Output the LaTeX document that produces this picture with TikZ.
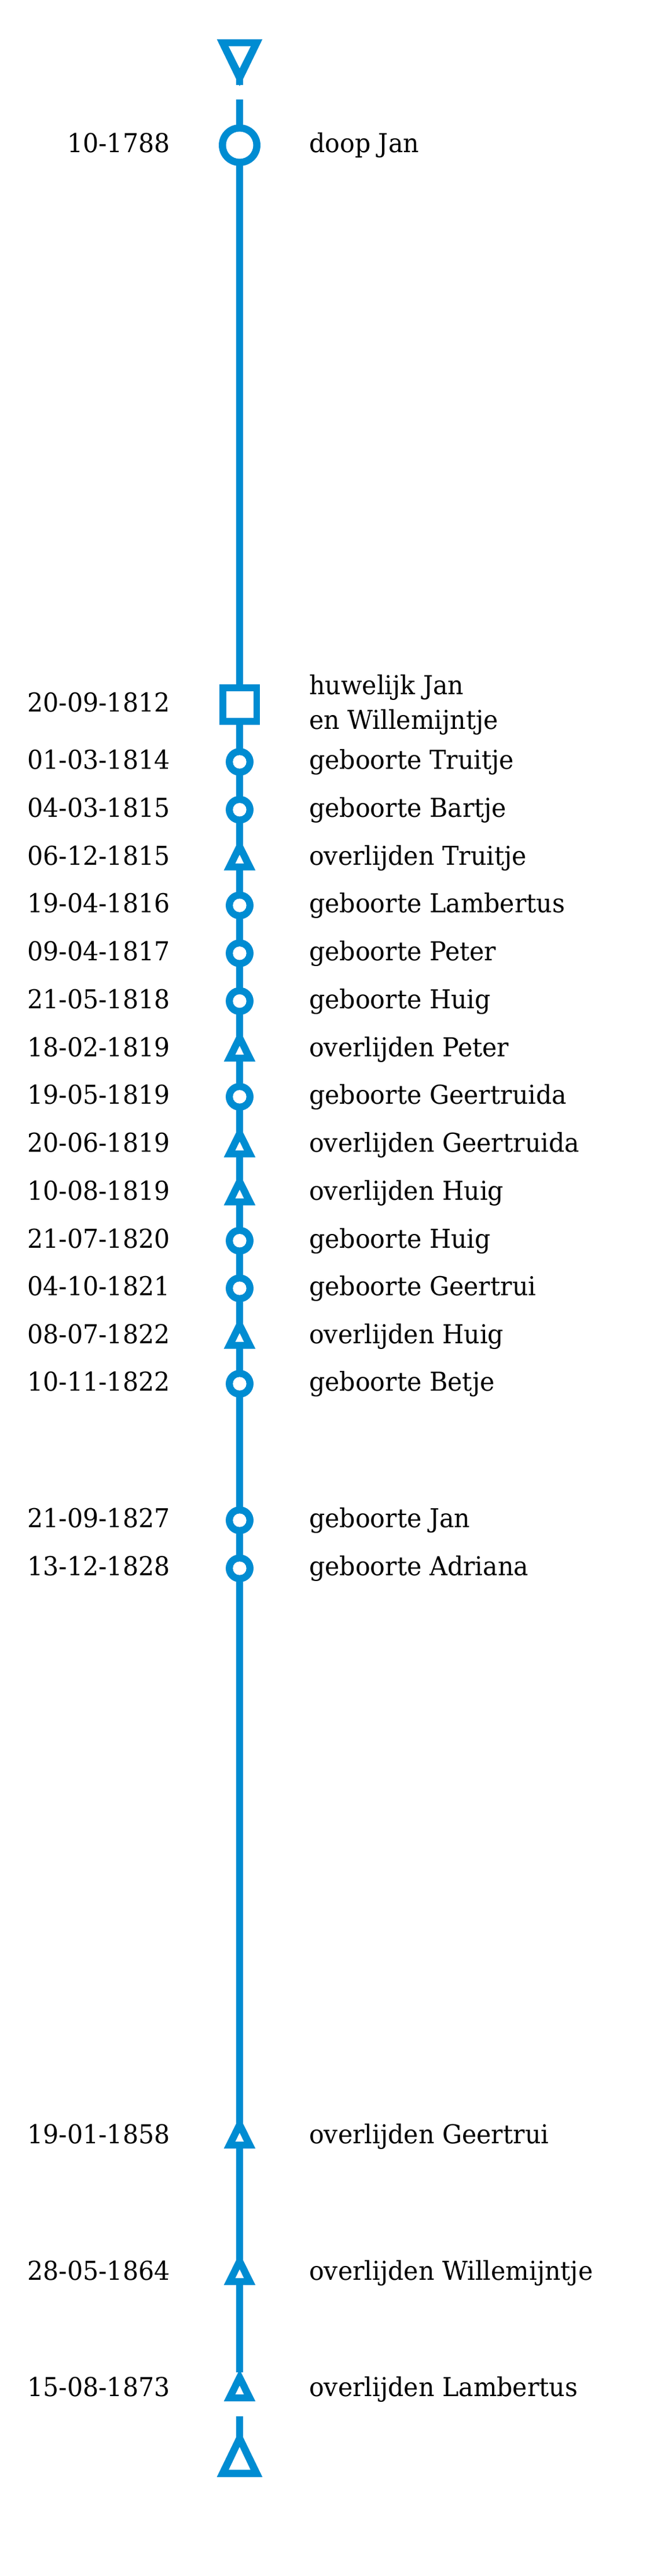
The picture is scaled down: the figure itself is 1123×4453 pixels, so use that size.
\documentclass[tikz,border=0pt]{standalone}
\usepackage{fontspec}
\setmainfont{DejaVu Serif}[FakeStretch=0.95]
\definecolor{tlblue}{RGB}{0,140,210}
\tikzset{
  tlline/.style={draw=tlblue, line width=12pt},
  datetxt/.style={anchor=base east, inner sep=0pt, font=\fontsize{45}{60}\selectfont},
  evtxt/.style={anchor=base west, inner sep=0pt, font=\fontsize{45}{60}\selectfont},
  bigcirc/.pic={\fill[tlblue] (0,0) circle[radius=36pt]; \fill[white] (0,0) circle[radius=23.5pt];},
  smallcirc/.pic={\fill[tlblue] (0,0) circle[radius=24pt]; \fill[white] (0,0) circle[radius=11.7pt];},
  squaremark/.pic={\fill[tlblue] (-35,-35) rectangle (35,35); \fill[white] (-23.5,-23) rectangle (23.5,23);},
  smalltri/.pic={\fill[tlblue] (0,-33.5) -- (27.3,21.5) -- (-27.3,21.5) -- cycle;
                 \fill[white] (0,-5.5) -- (7.3,9.5) -- (-7.3,9.5) -- cycle;},
  bigtridown/.pic={\fill[tlblue] (-39.3,0) -- (39.3,0) -- (0,81) -- cycle;
                   \fill[white] (-19,12) -- (19,12) -- (0,50) -- cycle;},
  bigtriup/.pic={\fill[tlblue] (-39.3,0) -- (39.3,0) -- (0,-81) -- cycle;
                 \fill[white] (-18.7,-12.4) -- (18.7,-12.4) -- (0,-51.7) -- cycle;},
}
\newcommand\tlevent[5]{%
  \coordinate (e#1) at (414,#2);
  \pic at (e#1) {#3};
  \node[datetxt] (d#1) at (294,{#2+12.5}) {#4};
  \node[evtxt] (l#1) at (534,{#2+12.5}) {#5};
}
\begin{document}
\begin{tikzpicture}[x=1pt,y=-1pt]
\fill[white] (0,0) rectangle (1123,4453);
\useasboundingbox (0,0) rectangle (1123,4453);
% line segments
\coordinate (t0) at (414,110);
\coordinate (t1) at (414,147);
\coordinate (m0) at (414,172);
\coordinate (m1) at (414,4101);
\coordinate (b0) at (414,4177);
\coordinate (b1) at (414,4220);
\draw[tlline] (t0) -- (t1);
\draw[tlline] (m0) -- (m1);
\draw[tlline] (b0) -- (b1);
% end triangles
\coordinate (topend) at (414,68);
\coordinate (botend) at (414,4281.7);
\pic at (topend) {bigtridown};
\pic at (botend) {bigtriup};
% events
\tlevent{a}{251}{bigcirc}{10-1788}{doop Jan}
\coordinate (ew) at (414,1217.5);
\pic at (ew) {squaremark};
\node[datetxt] (dw) at (294,1230) {20-09-1812};
\node[evtxt] (lw1) at (534,1200) {huwelijk Jan};
\node[evtxt] (lw2) at (534,1260) {en Willemijntje};
\tlevent{0}{1317}{smallcirc}{01-03-1814}{geboorte Truitje}
\tlevent{1}{1399.7}{smallcirc}{04-03-1815}{geboorte Bartje}
\tlevent{2}{1483}{smalltri}{06-12-1815}{overlijden Truitje}
\tlevent{3}{1565.1}{smallcirc}{19-04-1816}{geboorte Lambertus}
\tlevent{4}{1647.8}{smallcirc}{09-04-1817}{geboorte Peter}
\tlevent{5}{1730.5}{smallcirc}{21-05-1818}{geboorte Huig}
\tlevent{6}{1813.5}{smalltri}{18-02-1819}{overlijden Peter}
\tlevent{7}{1895.9}{smallcirc}{19-05-1819}{geboorte Geertruida}
\tlevent{8}{1979}{smalltri}{20-06-1819}{overlijden Geertruida}
\tlevent{9}{2062}{smalltri}{10-08-1819}{overlijden Huig}
\tlevent{10}{2144.7}{smallcirc}{21-07-1820}{geboorte Huig}
\tlevent{11}{2227}{smallcirc}{04-10-1821}{geboorte Geertrui}
\tlevent{12}{2310}{smalltri}{08-07-1822}{overlijden Huig}
\tlevent{13}{2392}{smallcirc}{10-11-1822}{geboorte Betje}
\tlevent{14}{2628}{smallcirc}{21-09-1827}{geboorte Jan}
\tlevent{15}{2711}{smallcirc}{13-12-1828}{geboorte Adriana}
\tlevent{16}{3692.5}{smalltri}{19-01-1858}{overlijden Geertrui}
\tlevent{17}{3928.5}{smalltri}{28-05-1864}{overlijden Willemijntje}
\tlevent{18}{4129.5}{smalltri}{15-08-1873}{overlijden Lambertus}
\end{tikzpicture}
\end{document}
